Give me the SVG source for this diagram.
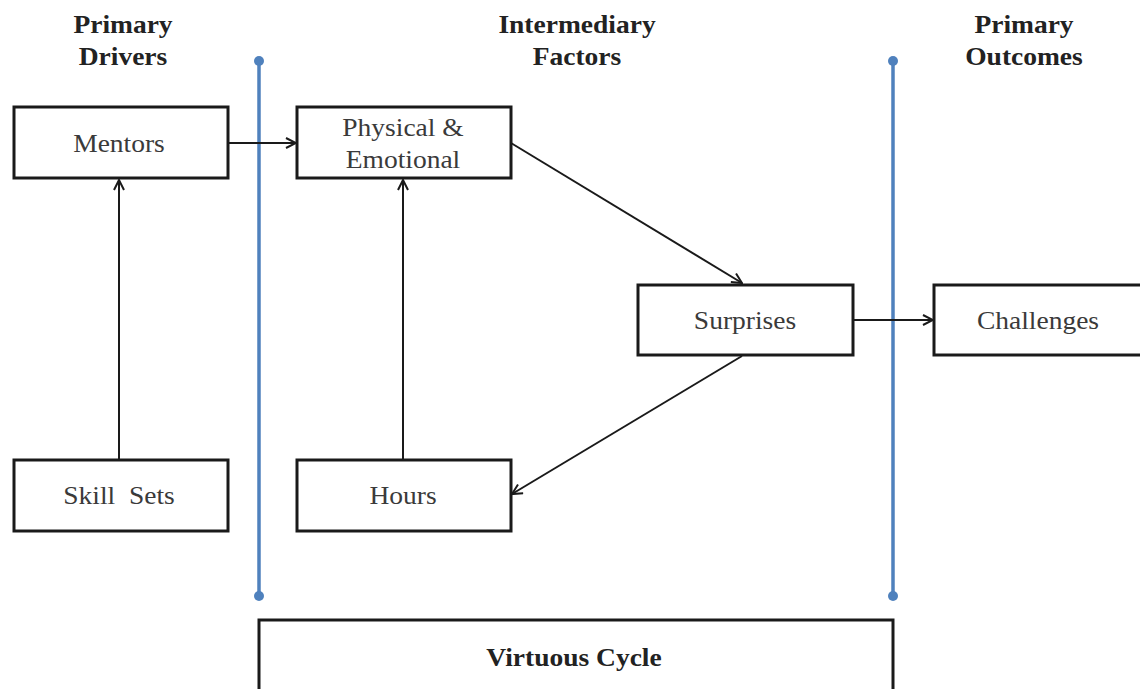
<svg xmlns="http://www.w3.org/2000/svg" width="1140" height="689" viewBox="0 0 1140 689">
  <style>
    .box { fill: #ffffff; stroke: #1a1a1a; stroke-width: 3; }
    .lbl { font-family: "Liberation Serif", "Times New Roman", serif; font-size: 25px; fill: #3a3a3a; text-anchor: middle; }
    .hdr { font-family: "Liberation Serif", "Times New Roman", serif; font-size: 25px; font-weight: bold; fill: #222222; text-anchor: middle; }
    .edge { stroke: #1a1a1a; stroke-width: 2; fill: none; marker-end: url(#arrow); }
    .divider { stroke: #4f81bd; stroke-width: 3.5; }
    .dot { fill: #4f81bd; }
  </style>
  <defs>
    <marker id="arrow" viewBox="0 0 12 12" refX="11" refY="6" markerWidth="12" markerHeight="12" markerUnits="userSpaceOnUse" orient="auto">
      <path d="M1,1 L11,6 L1,11" fill="none" stroke="#1a1a1a" stroke-width="2"/>
    </marker>
  </defs>
  <rect width="1140" height="689" fill="#ffffff"/>

  <!-- column headers (type set slightly wide) -->
  <g id="headers">
    <text class="hdr" transform="translate(123,33) scale(1.1,1)">Primary</text>
    <text class="hdr" transform="translate(123,65) scale(1.1,1)">Drivers</text>
    <text class="hdr" transform="translate(577,33) scale(1.1,1)">Intermediary</text>
    <text class="hdr" transform="translate(577,65) scale(1.1,1)">Factors</text>
    <text class="hdr" transform="translate(1024,33) scale(1.1,1)">Primary</text>
    <text class="hdr" transform="translate(1024,65) scale(1.1,1)">Outcomes</text>
  </g>

  <!-- column dividers -->
  <g id="dividers">
    <line class="divider" x1="259" y1="61" x2="259" y2="596"/>
    <circle class="dot" cx="259" cy="61" r="5"/>
    <circle class="dot" cx="259" cy="596" r="5"/>
    <line class="divider" x1="893" y1="61" x2="893" y2="596"/>
    <circle class="dot" cx="893" cy="61" r="5"/>
    <circle class="dot" cx="893" cy="596" r="5"/>
  </g>

  <!-- connectors -->
  <g id="connectors">
    <line class="edge" x1="228" y1="143" x2="296" y2="143"/>
    <line class="edge" x1="119" y1="460" x2="119" y2="180"/>
    <line class="edge" x1="403" y1="460" x2="403" y2="180"/>
    <line class="edge" x1="511" y1="143" x2="742" y2="283"/>
    <line class="edge" x1="742" y1="356" x2="512" y2="494"/>
    <line class="edge" x1="853" y1="320" x2="933" y2="320"/>
  </g>

  <g id="mentors">
    <rect class="box" x="14" y="107" width="214" height="71"/>
    <text class="lbl" transform="translate(119,152) scale(1.1,1)">Mentors</text>
  </g>
  <g id="physical-emotional">
    <rect class="box" x="297" y="107" width="214" height="71"/>
    <text class="lbl" transform="translate(403,136) scale(1.1,1)">Physical &amp;</text>
    <text class="lbl" transform="translate(403,168) scale(1.1,1)">Emotional</text>
  </g>
  <g id="surprises">
    <rect class="box" x="638" y="285" width="215" height="70"/>
    <text class="lbl" transform="translate(745,329) scale(1.1,1)">Surprises</text>
  </g>
  <g id="challenges">
    <rect class="box" x="934" y="285" width="210" height="70"/>
    <text class="lbl" transform="translate(1038,329) scale(1.1,1)">Challenges</text>
  </g>
  <g id="skill-sets">
    <rect class="box" x="14" y="460" width="214" height="71"/>
    <text class="lbl" transform="translate(119,504) scale(1.1,1)" xml:space="preserve">Skill  Sets</text>
  </g>
  <g id="hours">
    <rect class="box" x="297" y="460" width="214" height="71"/>
    <text class="lbl" transform="translate(403,504) scale(1.1,1)">Hours</text>
  </g>
  <g id="virtuous-cycle">
    <rect class="box" x="259" y="620" width="634" height="80"/>
    <text class="hdr" transform="translate(574,666) scale(1.1,1)">Virtuous Cycle</text>
  </g>
</svg>
